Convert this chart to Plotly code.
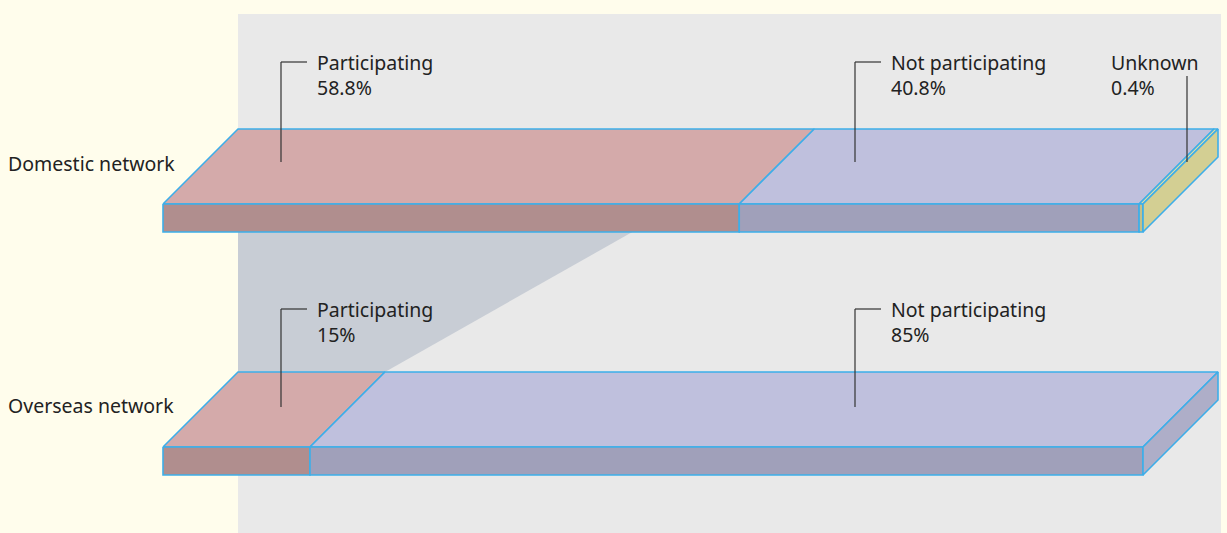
import plotly.graph_objects as go

# ---------------- data ----------------
rows = ["Domestic network", "Overseas network"]
categories = ["Participating", "Not participating", "Unknown"]
domestic_values = [58.8, 40.8, 0.4]
overseas_values = [15, 85, 0]
domestic_labels = ["58.8%", "40.8%", "0.4%"]
overseas_labels = ["15%", "85%", ""]

# ---------------- styling / layout ----------------
W, H = 1227, 533
X0_PX, PX_PER_PCT = 163, 9.8          # 0% sits at 163px, 100% spans 980px
DEPTH_PX = 75
DEPTH = DEPTH_PX / PX_PER_PCT          # depth offset in percent units

def px2x(px):
    return (px - X0_PX) / PX_PER_PCT

TOP = {"Participating": "#D4AAAA", "Not participating": "#BFC0DD", "Unknown": "#E2DDA2"}
FRONT = {"Participating": "#B08E8E", "Not participating": "#A0A0BA", "Unknown": "#C4C088"}
SIDE = {"Participating": "#C29C9C", "Not participating": "#AEAEC8", "Unknown": "#D3CF93"}
EDGE = "#3DAEE9"
BG = "#FFFDEC"
PANEL = "#E9E9E9"
FUNNEL = "#C8CDD5"
TEXT = "#222222"
FONT = "Noto Sans"
FSIZE = 19.5

# y geometry per row (back edge, front top, front bottom) in pixel-like units
row_geom = {
    "Domestic network": (129, 204, 232),
    "Overseas network": (372, 447, 475),
}
row_label_y = {"Domestic network": 163, "Overseas network": 405}

# label placement: (leader x px, text x px, first line centre y, leader end y, has horizontal tick)
label_place = {
    ("Domestic network", "Participating"): (281, 315, 62, 162, True),
    ("Domestic network", "Not participating"): (855, 889, 62, 162, True),
    ("Domestic network", "Unknown"): (1187, 1109, 62, 162, False),
    ("Overseas network", "Participating"): (281, 315, 309, 407, True),
    ("Overseas network", "Not participating"): (855, 889, 309, 407, True),
}

fig = go.Figure()


def poly(xs, ys, fill, width=1.6):
    fig.add_trace(go.Scatter(
        x=xs + [xs[0]], y=ys + [ys[0]], mode="lines", fill="toself",
        fillcolor=fill, line=dict(color=EDGE, width=width),
        hoverinfo="skip", showlegend=False))


# funnel connecting the two "Participating" segments
yb_d = row_geom["Domestic network"][0]
yb_o = row_geom["Overseas network"][0]
fig.add_trace(go.Scatter(
    x=[DEPTH, domestic_values[0] + DEPTH, overseas_values[0] + DEPTH, DEPTH, DEPTH],
    y=[yb_d, yb_d, yb_o, yb_o, yb_d], mode="lines", fill="toself",
    fillcolor=FUNNEL, line=dict(width=0), hoverinfo="skip", showlegend=False))

# bars
for row, values in zip(rows, [domestic_values, overseas_values]):
    yb, yt, ybot = row_geom[row]
    thick = ybot - yt
    start = 0.0
    segs = []
    for cat, v in zip(categories, values):
        if v > 0:
            segs.append((cat, start, start + v))
        start += v
    for cat, s, e in segs:
        poly([s, e, e + DEPTH, s + DEPTH], [yt, yt, yb, yb], TOP[cat])
        poly([s, e, e, s], [yt, yt, ybot, ybot], FRONT[cat])
    cat, s, e = segs[-1]
    poly([e, e + DEPTH, e + DEPTH, e], [yt, yb, yb + thick, ybot], SIDE[cat])

shapes = [dict(type="rect", xref="x", yref="y", x0=DEPTH, x1=px2x(1221), y0=14, y1=H,
               fillcolor=PANEL, line=dict(width=0), layer="below")]
annotations = []


def text_at(xpx, y, txt):
    annotations.append(dict(x=px2x(xpx), y=y, xref="x", yref="y", text=txt,
                            showarrow=False, xanchor="left", yanchor="middle", align="left",
                            font=dict(family=FONT, size=FSIZE, color=TEXT)))


for row, labels in zip(rows, [domestic_labels, overseas_labels]):
    text_at(6, row_label_y[row], row)
    for cat, lab in zip(categories, labels):
        key = (row, cat)
        if key not in label_place or not lab:
            continue
        lx, tx, ty, lend, tick = label_place[key]
        if tick:
            shapes.append(dict(type="line", xref="x", yref="y", x0=px2x(lx), x1=px2x(lx + 26),
                               y0=ty, y1=ty, line=dict(color="#333333", width=1.2)))
            shapes.append(dict(type="line", xref="x", yref="y", x0=px2x(lx), x1=px2x(lx),
                               y0=ty, y1=lend, line=dict(color="#333333", width=1.2)))
        else:
            shapes.append(dict(type="line", xref="x", yref="y", x0=px2x(lx), x1=px2x(lx),
                               y0=ty + 14, y1=lend, line=dict(color="#333333", width=1.2)))
        text_at(tx, ty + 12.5, f"{cat}<br>{lab}")

fig.update_layout(
    width=W, height=H, margin=dict(l=0, r=0, t=0, b=0),
    paper_bgcolor=BG, plot_bgcolor=BG,
    xaxis=dict(range=[px2x(0), px2x(W)], visible=False, fixedrange=True),
    yaxis=dict(range=[H, 0], visible=False, fixedrange=True),
    shapes=shapes, annotations=annotations, showlegend=False,
)

fig.write_html("out.html")
